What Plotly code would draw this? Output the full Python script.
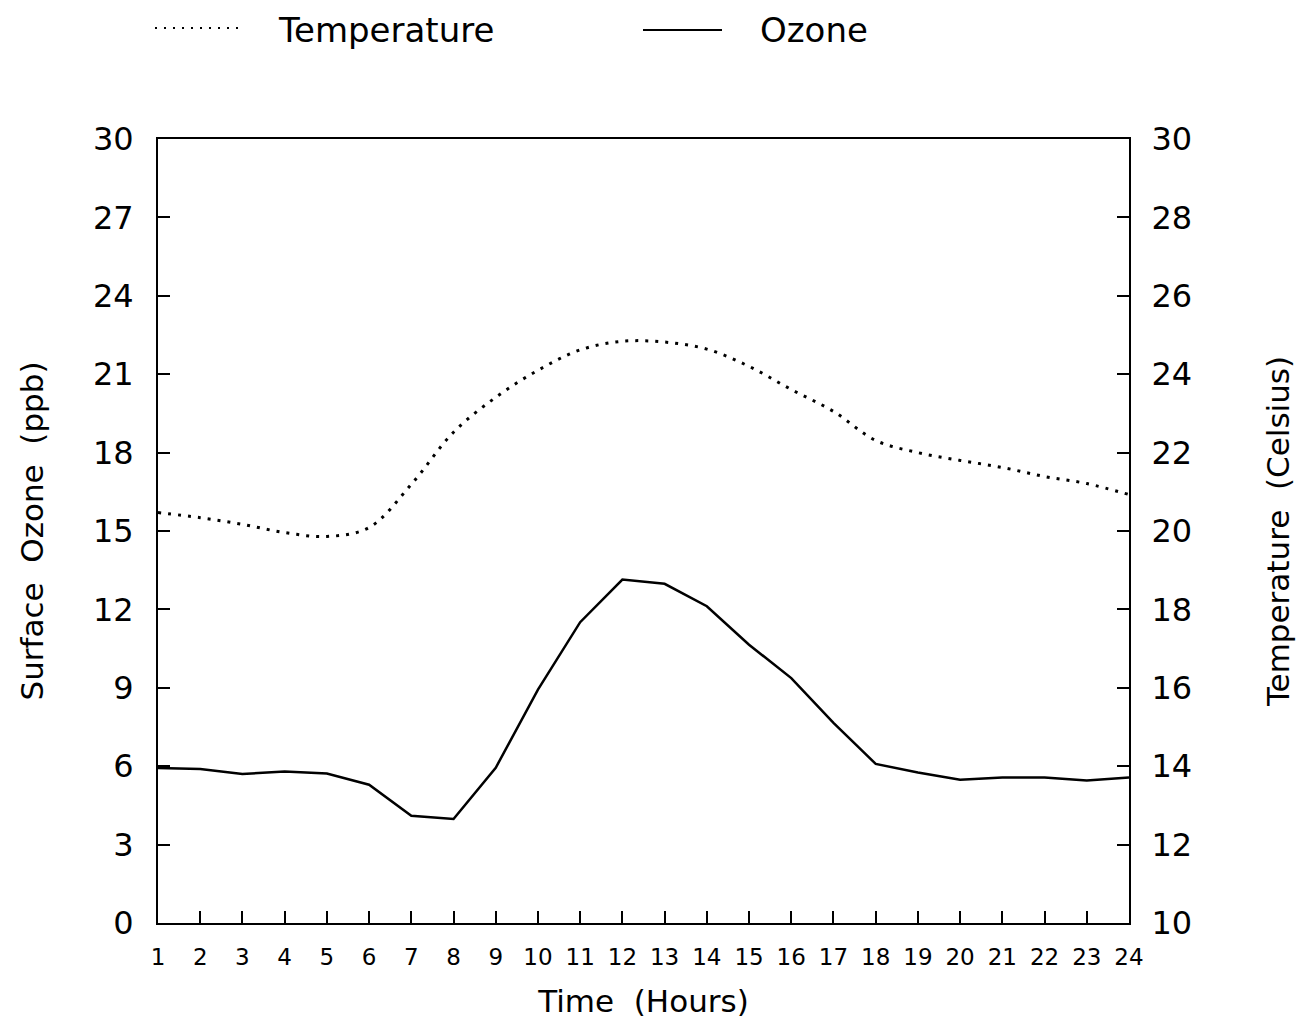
import plotly.graph_objects as go

hours = list(range(1, 25))
ozone_ppb = [5.93, 5.89, 5.70, 5.80, 5.72, 5.29, 4.10, 3.98, 5.94, 8.93, 11.51, 13.14,
             12.98, 12.12, 10.65, 9.37, 7.66, 6.09, 5.76, 5.48, 5.57, 5.57, 5.45, 5.57]
temperature_c = [20.47, 20.34, 20.17, 19.96, 19.86, 20.09, 21.19, 22.52, 23.41, 24.10, 24.62, 24.84,
                 24.82, 24.64, 24.20, 23.61, 23.05, 22.31, 22.00, 21.80, 21.62, 21.39, 21.21, 20.93]
left_ticks = list(range(0, 31, 3))
right_ticks = list(range(10, 31, 2))

FONT = "DejaVu Sans"
SP = "\u00a0\u00a0"

# plot area geometry (pixels)
L, R, T, B = 158, 1129, 139, 923
W, H = 1300, 1022
def px(x):
    return (x - L) / (R - L)
def py(y):
    return (B - y) / (B - T)

fig = go.Figure()
fig.add_trace(go.Scatter(x=hours, y=temperature_c, yaxis="y2", mode="lines",
                         name="Temperature", line=dict(color="black", width=3, dash="3px,7px", shape="spline")))
fig.add_trace(go.Scatter(x=hours, y=ozone_ppb, mode="lines", name="Ozone",
                         line=dict(color="black", width=2.5)))

fig.update_layout(
    width=W, height=H,
    margin=dict(l=L, r=W - R, t=T, b=H - B),
    paper_bgcolor="white", plot_bgcolor="white",
    showlegend=False,
    font=dict(family=FONT, color="black"),
    xaxis=dict(range=[1, 24], tickvals=hours, ticktext=[str(h) for h in hours],
               ticks="inside", ticklen=12, tickwidth=1.5, tickcolor="black",
               showline=True, linecolor="black", linewidth=2, mirror=True,
               showgrid=False, zeroline=False, automargin=False,
               tickfont=dict(size=23, family=FONT), ticklabelstandoff=12,
               title=dict(text="Time" + SP + "(Hours)", font=dict(size=31, family=FONT), standoff=22)),
    yaxis=dict(range=[0, 30], tickvals=left_ticks,
               ticks="inside", ticklen=12, tickwidth=1.5, tickcolor="black",
               showline=True, linecolor="black", linewidth=2,
               showgrid=False, zeroline=False, automargin=False,
               tickfont=dict(size=32, family=FONT), ticklabelstandoff=16,
               title=dict(text="Surface" + SP + "Ozone" + SP + "(ppb)", font=dict(size=31, family=FONT), standoff=40)),
    yaxis2=dict(range=[10, 30], tickvals=right_ticks, overlaying="y", side="right",
                ticks="inside", ticklen=12, tickwidth=1.5, tickcolor="black",
                showline=True, linecolor="black", linewidth=2,
                showgrid=False, zeroline=False, automargin=False,
                tickfont=dict(size=32, family=FONT), ticklabelstandoff=14,
                title=dict(text="Temperature" + SP + "(Celsius)", font=dict(size=31, family=FONT), standoff=76)),
)

# custom legend at the top
fig.add_shape(type="line", xref="paper", yref="paper",
              x0=px(155), x1=px(245), y0=py(28), y1=py(28),
              line=dict(color="black", width=2, dash="2px,7px"))
fig.add_annotation(xref="paper", yref="paper", x=px(276), y=py(30), xanchor="left", yanchor="middle",
                   text="Temperature", showarrow=False, font=dict(size=34, family=FONT))
fig.add_shape(type="line", xref="paper", yref="paper",
              x0=px(643), x1=px(722), y0=py(30), y1=py(30),
              line=dict(color="black", width=2))
fig.add_annotation(xref="paper", yref="paper", x=px(758), y=py(30), xanchor="left", yanchor="middle",
                   text="Ozone", showarrow=False, font=dict(size=34, family=FONT))

fig.write_html("out.html")
